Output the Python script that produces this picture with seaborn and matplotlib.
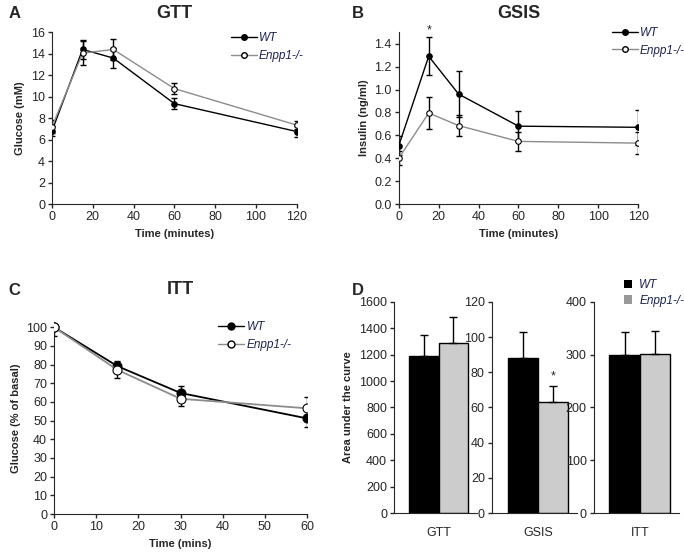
import numpy as np
import pandas as pd
import matplotlib.pyplot as plt
import seaborn as sns
from matplotlib.lines import Line2D
from matplotlib.patches import Patch

sns.set_style("ticks")
plt.rcParams['font.family'] = ['Liberation Sans', 'DejaVu Sans']

groups = ["WT", "Enpp1-/-"]

# GTT
gtt_time = [0, 15, 30, 60, 120]
gtt_wt = [6.8, 14.4, 13.6, 9.35, 6.75]
gtt_wt_err = [0.5, 0.9, 0.95, 0.5, 0.5]
gtt_ko = [7.2, 14.05, 14.4, 10.75, 7.35]
gtt_ko_err = [0.6, 1.1, 1.0, 0.5, 0.35]

# GSIS
gsis_time = [0, 15, 30, 60, 120]
gsis_wt = [0.51, 1.29, 0.96, 0.68, 0.67]
gsis_wt_err = [0.08, 0.165, 0.2, 0.13, 0.155]
gsis_ko = [0.40, 0.795, 0.685, 0.547, 0.532]
gsis_ko_err = [0.06, 0.14, 0.09, 0.08, 0.095]

# ITT
itt_time = [0, 15, 30, 60]
itt_wt = [100, 79.2, 64.8, 51.2]
itt_wt_err = [0, 2.5, 4.0, 4.7]
itt_ko = [100, 77.2, 61.7, 56.6]
itt_ko_err = [4.5, 4.3, 4.0, 6.0]

# AUC
auc_tests = ["GTT", "GSIS", "ITT"]
auc_wt = [1190, 88, 300]
auc_wt_err = [160, 15, 43]
auc_ko = [1285, 63, 301]
auc_ko_err = [200, 9, 43]
auc_ymax = [1600, 120, 400]
auc_step = [200, 20, 100]

navy = "#1a2350"
ko_grey = "#8c8c8c"
tick_fs = 9

fig = plt.figure(figsize=(6.84, 5.56), dpi=100)


def line_panel(ax, t, wt, wte, ko, koe, ms, lw):
    df = pd.DataFrame({"time": t * 2, "value": wt + ko,
                       "group": [groups[0]] * len(t) + [groups[1]] * len(t)})
    ax.errorbar(t, ko, yerr=koe, fmt="none", ecolor="black", elinewidth=1, capsize=2.5, zorder=2)
    ax.errorbar(t, wt, yerr=wte, fmt="none", ecolor="black", elinewidth=1, capsize=2.5, zorder=2)
    sns.lineplot(data=df[df.group == groups[0]], x="time", y="value", ax=ax, color="black",
                 lw=lw, marker="o", markersize=ms, markerfacecolor="black",
                 markeredgecolor="black", zorder=3, legend=False)
    sns.lineplot(data=df[df.group == groups[1]], x="time", y="value", ax=ax, color=ko_grey,
                 lw=lw, marker="o", markersize=ms, markerfacecolor="white",
                 markeredgecolor="black", markeredgewidth=0.8, zorder=4, legend=False)
    for s in ["top", "right"]:
        ax.spines[s].set_visible(False)
    ax.tick_params(direction="out", length=3, width=1, labelsize=tick_fs, pad=2)


def line_legend(ax, loc_xy, ms):
    h = [Line2D([], [], color="black", marker="o", ms=ms, mfc="black", mec="black", lw=1),
         Line2D([], [], color=ko_grey, marker="o", ms=ms, mfc="white", mec="black", lw=1)]
    leg = ax.legend(h, groups, loc="upper left", bbox_to_anchor=loc_xy, frameon=False,
                    fontsize=8.5, handlelength=2.2, handletextpad=0.2, labelspacing=0.5,
                    borderaxespad=0)
    for txt in leg.get_texts():
        txt.set_style("italic")
        txt.set_color(navy)


# A
axA = fig.add_axes([0.076, 0.633, 0.358, 0.309])
line_panel(axA, gtt_time, gtt_wt, gtt_wt_err, gtt_ko, gtt_ko_err, 4, 1)
axA.set_xlim(0, 120)
axA.set_ylim(0, 16)
axA.set_xticks(range(0, 121, 20))
axA.set_yticks(range(0, 17, 2))
axA.set_xlabel("Time (minutes)", fontsize=8, fontweight="bold")
axA.set_ylabel("Glucose (mM)", fontsize=8, fontweight="bold")
axA.set_title("GTT", fontsize=13, fontweight="bold", pad=10)
line_legend(axA, (0.71, 1.03), 4)

# B
axB = fig.add_axes([0.583, 0.633, 0.350, 0.309])
line_panel(axB, gsis_time, gsis_wt, gsis_wt_err, gsis_ko, gsis_ko_err, 4, 1)
axB.set_xlim(0, 120)
axB.set_ylim(0, 1.5)
axB.set_xticks(range(0, 121, 20))
axB.set_yticks(np.arange(0, 1.41, 0.2))
axB.set_yticklabels([f"{v:.1f}" for v in np.arange(0, 1.41, 0.2)])
axB.set_xlabel("Time (minutes)", fontsize=8, fontweight="bold")
axB.set_ylabel("Insulin (ng/ml)", fontsize=8, fontweight="bold")
axB.set_title("GSIS", fontsize=13, fontweight="bold", pad=10)
axB.text(15, gsis_wt[1] + gsis_wt_err[1] + 0.01, "*", ha="center", va="bottom", fontsize=9)
line_legend(axB, (0.87, 1.06), 4)

# C
axC = fig.add_axes([0.079, 0.0755, 0.370, 0.345])
line_panel(axC, itt_time, itt_wt, itt_wt_err, itt_ko, itt_ko_err, 6.5, 1.3)
axC.set_xlim(0, 60)
axC.set_ylim(0, 102.7)
axC.set_xticks(range(0, 61, 10))
axC.set_yticks(range(0, 101, 10))
axC.set_xlabel("Time (mins)", fontsize=8, fontweight="bold")
axC.set_ylabel("Glucose (% of basal)", fontsize=8, fontweight="bold")
axC.text(0.5, 1.17, "ITT", transform=axC.transAxes, ha="center", va="center",
         fontsize=13, fontweight="bold")
line_legend(axC, (0.63, 1.03), 5)

# D
d_pos = [[0.576, 0.0773, 0.121, 0.3797],
         [0.719, 0.0773, 0.125, 0.3797],
         [0.868, 0.0773, 0.125, 0.3797]]
for i, test in enumerate(auc_tests):
    ax = fig.add_axes(d_pos[i])
    bdf = pd.DataFrame({"group": groups, "auc": [auc_wt[i], auc_ko[i]]})
    sns.barplot(data=bdf, x="group", y="auc", hue="group", palette=["black", "#cccccc"],
                width=1.0, edgecolor="black", linewidth=1, ax=ax, legend=False)
    ax.errorbar([0, 1], [auc_wt[i], auc_ko[i]],
                yerr=[[0, 0], [auc_wt_err[i], auc_ko_err[i]]],
                fmt="none", ecolor="black", elinewidth=1, capsize=3, zorder=5)
    ax.set_xlim(-1.02, 1.8)
    ax.set_ylim(0, auc_ymax[i])
    ax.set_yticks(np.arange(0, auc_ymax[i] + 1, auc_step[i]))
    ax.set_xticks([0.5])
    ax.set_xticklabels([test])
    ax.tick_params(axis="x", length=0, labelsize=tick_fs, pad=10)
    ax.tick_params(axis="y", direction="out", length=3, width=1, labelsize=tick_fs, pad=2)
    ax.set_xlabel("")
    ax.set_ylabel("")
    for s in ["top", "right"]:
        ax.spines[s].set_visible(False)
    if i == 0:
        ax.set_ylabel("Area under the curve", fontsize=8, fontweight="bold")
    if i == 1:
        ax.text(1, auc_ko[i] + auc_ko_err[i] + 2, "*", ha="center", va="bottom", fontsize=9)
    if i == 2:
        h = [Patch(facecolor="black", edgecolor="none"), Patch(facecolor="#999999", edgecolor="none")]
        leg = ax.legend(h, groups, loc="upper left", bbox_to_anchor=(0.3, 1.13), frameon=False,
                        fontsize=8.5, handlelength=0.7, handleheight=0.7, handletextpad=0.6,
                        labelspacing=0.3, borderaxespad=0)
        for txt in leg.get_texts():
            txt.set_style("italic")
            txt.set_color(navy)

# panel letters
for lab, x, y in [("A", 0.012, 0.975), ("B", 0.514, 0.975), ("C", 0.012, 0.478), ("D", 0.514, 0.478)]:
    fig.text(x, y, lab, fontsize=12, fontweight="bold", va="center")

fig.savefig("out.png", dpi=100)
